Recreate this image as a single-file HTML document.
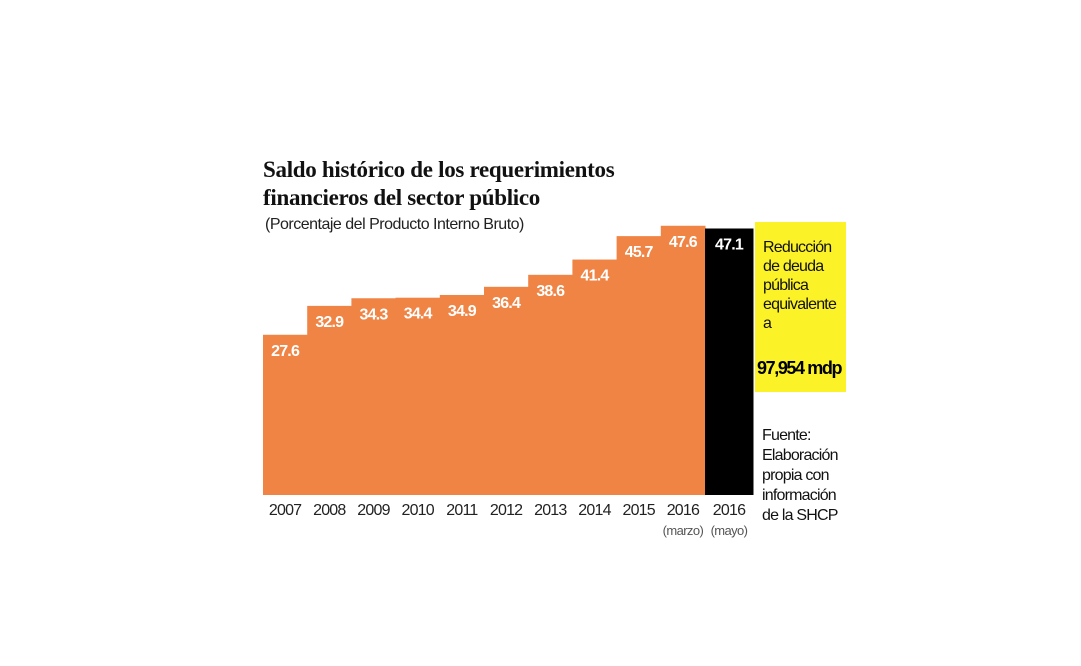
<!DOCTYPE html>
<html><head><meta charset="utf-8">
<style>
body{margin:0;width:1081px;height:666px;background:#fff;position:relative;overflow:hidden;font-family:"Liberation Sans",sans-serif}
.t{position:absolute;left:263px;font-family:"Liberation Serif",serif;font-weight:bold;font-size:23px;line-height:28px;color:#111;letter-spacing:-0.3px}
.sub{position:absolute;left:265px;top:216px;font-size:16px;color:#222;letter-spacing:-0.5px}
.box{position:absolute;left:755px;top:222px;width:91px;height:170px;background:#fbf227;overflow:hidden}
.box .a{position:absolute;left:8px;top:16px;font-size:16px;line-height:19px;color:#111;letter-spacing:-0.8px}
.box .b{position:absolute;left:2px;top:136px;font-size:18px;font-weight:bold;color:#000;letter-spacing:-1.4px;white-space:nowrap}
.src{position:absolute;left:762px;top:426px;font-size:16px;line-height:20px;color:#111;letter-spacing:-0.8px}
</style></head><body>
<div class="t" style="top:156px">Saldo histórico de los requerimientos<br>financieros del sector público</div>
<div class="sub">(Porcentaje del Producto Interno Bruto)</div>
<svg id="c" width="1081" height="666" style="position:absolute;left:0;top:0"></svg>
<div class="box"><div class="a">Reducción<br>de deuda<br>pública<br>equivalente<br>a</div><div class="b">97,954 mdp</div></div>
<div class="src">Fuente:<br>Elaboración<br>propia con<br>información<br>de la SHCP</div>
<script>
const categories=["2007","2008","2009","2010","2011","2012","2013","2014","2015","2016","2016"];
const subLabels=["","","","","","","","","","(marzo)","(mayo)"];
const values=[27.6,32.9,34.3,34.4,34.9,36.4,38.6,41.4,45.7,47.6,47.1];
const valueLabels=["27.6","32.9","34.3","34.4","34.9","36.4","38.6","41.4","45.7","47.6","47.1"];
const NS="http://www.w3.org/2000/svg",svg=document.getElementById('c');
const baseY=495,x0=263,bw=44.2;
function y(v){return baseY-(v+1.8)*5.45;}
function xs(i){return i<10?x0+i*bw:x0+10*bw;}
function wd(i){return i<10?bw:48;}
function mk(t,a){const e=document.createElementNS(NS,t);for(const k in a)e.setAttribute(k,a[k]);svg.appendChild(e);return e;}
values.forEach((v,i)=>{
 const r=mk('rect',{x:xs(i),y:y(v),width:wd(i)+0.5,height:baseY-y(v),fill:i<10?'#ef8444':'#000'});
 
 
 const cx=xs(i)+wd(i)/2;
 const t=mk('text',{x:cx,y:y(v)+21,'text-anchor':'middle','font-size':16,'font-weight':'bold',fill:'#fff','font-family':'Liberation Sans, sans-serif','letter-spacing':'-0.8'});
 t.textContent=valueLabels[i];
 
 
 const l=mk('text',{x:cx,y:515,'text-anchor':'middle','font-size':16,fill:'#222','font-family':'Liberation Sans, sans-serif','letter-spacing':'-0.8'});
 l.textContent=categories[i];
 
 
 if(subLabels[i]){
  const s=mk('text',{x:cx,y:535,'text-anchor':'middle','font-size':13,fill:'#555','font-family':'Liberation Sans, sans-serif','letter-spacing':'-0.6'});
  s.textContent=subLabels[i];
  
  
 }
});
</script>
</body></html>
